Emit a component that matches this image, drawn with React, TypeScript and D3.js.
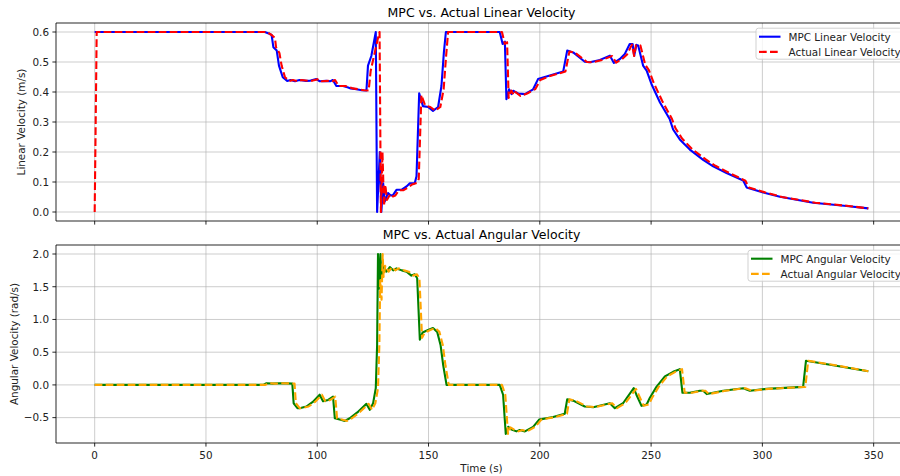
import React from 'react';
import * as d3 from 'd3';

// time (s) and linear velocity (m/s)
const mpcLinT = [0, 76.4, 78.5, 79.5, 80.3, 81.8, 82.8, 84.5, 86.5, 88, 90, 92, 95, 97, 99.6, 101, 104, 106, 107, 108.6, 111.6, 113.9, 115, 117.6, 120, 122.1, 122.8, 124.3, 126.3, 126.9, 128.1, 128.8, 129.6, 130.3, 131.8, 133, 134.1, 135.6, 137.8, 140.1, 141.6, 143.8, 144.6, 145.8, 147.5, 149.8, 152, 154.3, 155.8, 156.9, 157.8, 182, 183.3, 184.3, 185, 186.2, 187.3, 188, 190.3, 193.3, 197, 199.2, 203, 210.5, 212.3, 215, 220.2, 222.5, 227, 231.5, 233.3, 236, 238.2, 240.4, 241.7, 242.4, 243.4, 244.2, 246.4, 248, 250.2, 254, 258.4, 259.9, 262.9, 267.4, 273.4, 277.9, 283.9, 291.4, 292.9, 300.4, 307.9, 322.8, 337.8, 347.6];
const mpcLinV = [0.6, 0.6, 0.594, 0.59, 0.549, 0.538, 0.488, 0.449, 0.437, 0.44, 0.436, 0.44, 0.437, 0.438, 0.443, 0.436, 0.437, 0.436, 0.44, 0.42, 0.42, 0.415, 0.412, 0.409, 0.406, 0.405, 0.488, 0.52, 0.6, 0.0, 0.2, 0.0, 0.096, 0.035, 0.063, 0.055, 0.057, 0.074, 0.074, 0.085, 0.096, 0.096, 0.119, 0.396, 0.353, 0.35, 0.337, 0.35, 0.42, 0.532, 0.6, 0.6, 0.56, 0.568, 0.376, 0.409, 0.393, 0.404, 0.395, 0.393, 0.409, 0.443, 0.452, 0.468, 0.538, 0.532, 0.501, 0.499, 0.507, 0.521, 0.497, 0.51, 0.527, 0.56, 0.56, 0.521, 0.557, 0.555, 0.488, 0.471, 0.426, 0.365, 0.309, 0.275, 0.242, 0.208, 0.174, 0.152, 0.13, 0.105, 0.082, 0.065, 0.051, 0.031, 0.02, 0.012];

const actLinT = [0, 0.9, 77.4, 79.5, 81, 81.5, 83, 84, 85.5, 87.5, 89, 91, 93, 96, 98, 100.6, 102, 105, 107, 108, 109.6, 112.6, 114.9, 116, 118.6, 121, 123.1, 124, 125.5, 127.3, 128, 128.6, 129.3, 130, 130.6, 131.3, 132.8, 134, 135.1, 136.6, 138.8, 141.1, 142.6, 144.8, 145.6, 146.8, 148.5, 150.8, 153, 155.3, 156.8, 157.9, 158.8, 183, 184.3, 185.3, 186, 187.2, 188.3, 189, 191.3, 194.3, 198, 200.2, 204, 211.5, 213.3, 216, 221.2, 223.5, 228, 232.5, 234.3, 237, 239.2, 241.4, 242.4, 243.2, 244.6, 245.2, 247.4, 249, 251.2, 255, 259.4, 260.9, 263.9, 268.4, 274.4, 278.9, 284.9, 292.4, 293.9, 301.4, 308.9, 323.8, 338.8, 347.6];
const actLinV = [0, 0.6, 0.6, 0.59, 0.58, 0.549, 0.53, 0.488, 0.449, 0.437, 0.44, 0.436, 0.44, 0.437, 0.438, 0.443, 0.436, 0.437, 0.436, 0.44, 0.42, 0.42, 0.415, 0.412, 0.409, 0.406, 0.405, 0.47, 0.52, 0.58, 0.6, 0.0, 0.2, 0.02, 0.09, 0.04, 0.06, 0.052, 0.055, 0.072, 0.073, 0.083, 0.092, 0.097, 0.11, 0.39, 0.355, 0.35, 0.338, 0.35, 0.41, 0.52, 0.6, 0.6, 0.56, 0.566, 0.38, 0.405, 0.39, 0.4, 0.387, 0.395, 0.41, 0.44, 0.452, 0.468, 0.535, 0.53, 0.5, 0.499, 0.507, 0.52, 0.498, 0.51, 0.525, 0.558, 0.52, 0.556, 0.556, 0.555, 0.49, 0.473, 0.43, 0.37, 0.31, 0.28, 0.245, 0.21, 0.176, 0.154, 0.131, 0.104, 0.082, 0.065, 0.05, 0.031, 0.02, 0.012];

// time (s) and angular velocity (rad/s)
const mpcAngT = [0, 75.7, 77.2, 80, 83, 86, 88.8, 89.4, 91.1, 92.1, 95.1, 98, 101.1, 102.6, 104.9, 107.1, 107.9, 110.1, 112.4, 114.6, 118, 122.1, 123.6, 125.1, 126.3, 126.9, 127.3, 127.8, 128.4, 128.8, 129.6, 131.1, 132.6, 134.1, 135.6, 138, 140.1, 142.3, 143.8, 144.9, 146.1, 147.3, 149.8, 152, 153.9, 155.4, 156.6, 158.1, 182, 183.5, 184.7, 185.8, 187.3, 189.5, 191, 193.3, 197, 199.7, 206, 211.2, 212.3, 215, 220.2, 224, 231.5, 233.7, 237.4, 242.2, 243.4, 245.7, 248, 249.4, 252.4, 256.2, 259.9, 262.9, 264.1, 267.4, 271.9, 273.4, 275, 282.4, 291.4, 294.4, 301.9, 318.3, 319.6, 331.8, 347.6];
const mpcAngV = [0, 0, 0.026, 0.02, 0.025, 0.024, 0.02, -0.28, -0.355, -0.355, -0.33, -0.26, -0.15, -0.25, -0.23, -0.18, -0.51, -0.53, -0.55, -0.51, -0.42, -0.29, -0.38, -0.28, -0.05, 0.61, 2.0, 1.47, 2.0, 1.63, 1.83, 1.73, 1.8, 1.75, 1.78, 1.75, 1.73, 1.67, 1.69, 1.63, 0.69, 0.8, 0.84, 0.87, 0.81, 0.61, 0.3, 0, 0, -0.15, -0.75, -0.64, -0.68, -0.71, -0.69, -0.71, -0.64, -0.53, -0.49, -0.44, -0.22, -0.24, -0.33, -0.34, -0.28, -0.355, -0.28, -0.05, -0.15, -0.32, -0.3, -0.2, -0.03, 0.13, 0.2, 0.24, -0.12, -0.12, -0.09, -0.09, -0.14, -0.09, -0.05, -0.09, -0.06, -0.03, 0.37, 0.3, 0.21];

const actAngT = [0, 76.7, 78.2, 81, 84, 87, 89.8, 90.4, 92.1, 93.1, 96.1, 99, 102.1, 103.6, 105.9, 108.1, 108.9, 111.1, 113.4, 115.6, 119, 123.1, 124.6, 126.1, 127.3, 127.9, 128.3, 128.9, 129.4, 129.8, 130.6, 132.1, 133.6, 135.1, 136.6, 139, 141.1, 143.3, 144.8, 145.9, 147.1, 148.3, 150.8, 153, 154.9, 156.4, 157.6, 159.1, 183, 184.5, 185.7, 186.8, 188.3, 190.5, 192, 194.3, 198, 200.7, 207, 212.2, 213.3, 216, 221.2, 225, 232.5, 234.7, 238.4, 243.2, 244.4, 246.7, 249, 250.4, 253.4, 257.2, 260.9, 263.9, 265.1, 268.4, 272.9, 274.4, 276, 283.4, 292.4, 295.4, 302.9, 319.3, 320.6, 332.8, 347.6];
const actAngV = [0, 0, 0.026, 0.02, 0.025, 0.024, 0.02, -0.28, -0.355, -0.355, -0.33, -0.26, -0.15, -0.25, -0.23, -0.18, -0.51, -0.53, -0.55, -0.51, -0.42, -0.29, -0.38, -0.28, -0.05, 0.6, 1.6, 1.3, 2.0, 1.65, 1.82, 1.73, 1.8, 1.75, 1.78, 1.75, 1.73, 1.67, 1.69, 1.63, 0.72, 0.8, 0.84, 0.87, 0.81, 0.61, 0.3, 0, 0, -0.15, -0.75, -0.65, -0.68, -0.71, -0.69, -0.71, -0.64, -0.53, -0.49, -0.44, -0.22, -0.24, -0.33, -0.34, -0.28, -0.355, -0.28, -0.06, -0.15, -0.32, -0.3, -0.2, -0.03, 0.13, 0.2, 0.24, -0.12, -0.12, -0.09, -0.09, -0.14, -0.09, -0.05, -0.09, -0.06, -0.03, 0.37, 0.3, 0.21];

const xTicks = [0, 50, 100, 150, 200, 250, 300, 350];
const linTicks = [0.0, 0.1, 0.2, 0.3, 0.4, 0.5, 0.6];
const angTicks = [-0.5, 0.0, 0.5, 1.0, 1.5, 2.0];

const FONT = 'DejaVu Sans, sans-serif';
const DASH = '7.7 3.3';

const fmt = (v: number) => {
  const s = v.toFixed(1);
  return v < 0 ? '\u2212' + s.slice(1) : s;
};

const App = () => {
  const width = 900;
  const height = 476;
  const left = 56;
  const right = 907;

  const x = d3.scaleLinear().domain([-17.38, 364.98]).range([left, right]);
  const yTop = d3.scaleLinear().domain([-0.03, 0.63]).range([221, 23]);
  const yBot = d3.scaleLinear().domain([-0.8875, 2.1375]).range([443, 245]);

  const mkLine = (y: d3.ScaleLinear<number, number>, ts: number[], vs: number[]) =>
    d3.line<number>().x((_, i) => x(ts[i])).y((v) => y(v))(vs) || '';

  const panel = (
    y: d3.ScaleLinear<number, number>,
    yTicks: number[],
    title: string,
    ylabel: string,
    ylabelX: number,
    showX: boolean,
    series: { d: string; color: string; dash?: string; label: string }[],
    legX: number
  ) => {
    const [y0, y1] = y.range();
    const legY = y1 + 5.2;
    return (
      <g>
        {xTicks.map((t) => (
          <line key={'gx' + t} x1={x(t)} x2={x(t)} y1={y1} y2={y0} stroke='#b0b0b0' strokeOpacity={0.7} strokeWidth={0.9} />
        ))}
        {yTicks.map((t) => (
          <line key={'gy' + t} x1={left} x2={right} y1={y(t)} y2={y(t)} stroke='#b0b0b0' strokeOpacity={0.7} strokeWidth={0.9} />
        ))}
        {series.map((s, i) => (
          <path key={i} d={s.d} fill='none' stroke={s.color} strokeWidth={2.1} strokeDasharray={s.dash} strokeLinejoin='round' />
        ))}
        <line x1={left} x2={left} y1={y1} y2={y0} stroke='#000' strokeWidth={0.85} />
        <line x1={left} x2={right} y1={y0} y2={y0} stroke='#000' strokeWidth={0.85} />
        <line x1={left} x2={right} y1={y1} y2={y1} stroke='#000' strokeWidth={0.85} />
        {xTicks.map((t) => (
          <g key={'tx' + t}>
            <line x1={x(t)} x2={x(t)} y1={y0} y2={y0 + 3.6} stroke='#000' strokeWidth={0.85} />
            {showX && (
              <text x={x(t)} y={y0 + 15.5} textAnchor='middle' fontSize={10.4} fontFamily={FONT} fill='#222'>
                {t}
              </text>
            )}
          </g>
        ))}
        {yTicks.map((t) => (
          <g key={'ty' + t}>
            <line x1={left - 3.6} x2={left} y1={y(t)} y2={y(t)} stroke='#000' strokeWidth={0.85} />
            <text x={left - 7} y={y(t) + 3.8} textAnchor='end' fontSize={10.4} fontFamily={FONT} fill='#222'>
              {fmt(t)}
            </text>
          </g>
        ))}
        <text x={(left + right) / 2} y={y1 - 6.3} textAnchor='middle' fontSize={12.5} fontFamily={FONT} fill='#000'>
          {title}
        </text>
        <text
          transform={`translate(${ylabelX},${(y0 + y1) / 2}) rotate(-90)`}
          textAnchor='middle'
          fontSize={10.4}
          fontFamily={FONT}
          fill='#222'
        >
          {ylabel}
        </text>
        <rect x={legX} y={legY} width={right - 5.2 - legX} height={31} rx={2.5} fill='#fff' fillOpacity={0.8} stroke='#cccccc' strokeWidth={0.9} />
        {series.map((s, i) => (
          <g key={'lg' + i}>
            <line x1={legX + 3} x2={legX + 24.5} y1={legY + 8.5 + i * 15.2} y2={legY + 8.5 + i * 15.2} stroke={s.color} strokeWidth={2.1} strokeDasharray={s.dash} />
            <text x={legX + 32.5} y={legY + 12.3 + i * 15.2} fontSize={10.4} fontFamily={FONT} fill='#222'>
              {s.label}
            </text>
          </g>
        ))}
      </g>
    );
  };

  return (
    <svg width={width} height={height} style={{ position: 'absolute', left: 0, top: 0, background: '#fff' }}>
      {panel(yTop, linTicks, 'MPC vs. Actual Linear Velocity', 'Linear Velocity (m/s)', 25, false, [
        { d: mkLine(yTop, mpcLinT, mpcLinV), color: '#0000ff', label: 'MPC Linear Velocity' },
        { d: mkLine(yTop, actLinT, actLinV), color: '#ff0000', dash: DASH, label: 'Actual Linear Velocity' },
      ], 756)}
      {panel(yBot, angTicks, 'MPC vs. Actual Angular Velocity', 'Angular Velocity (rad/s)', 18, true, [
        { d: mkLine(yBot, mpcAngT, mpcAngV), color: '#008000', label: 'MPC Angular Velocity' },
        { d: mkLine(yBot, actAngT, actAngV), color: '#ffa500', dash: DASH, label: 'Actual Angular Velocity' },
      ], 748)}
      <text x={(left + right) / 2} y={472} textAnchor='middle' fontSize={10.4} fontFamily={FONT} fill='#222'>
        Time (s)
      </text>
    </svg>
  );
};

export default App;
